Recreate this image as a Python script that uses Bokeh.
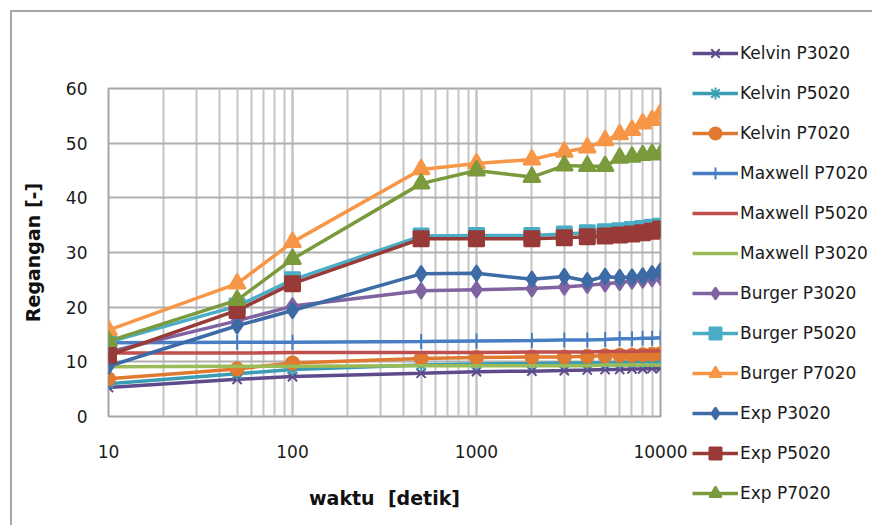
from bokeh.plotting import figure
from bokeh.models import (Range1d, LogTicker, SingleIntervalTicker, PrintfTickFormatter,
                          Legend, LegendItem)
from bokeh.embed import file_html
from bokeh.resources import INLINE

# ---- data ----
waktu = [10, 50, 100, 500, 1000, 2000, 3000, 4000, 5000, 6000, 7000, 8000, 9000, 10000]

kelvin_p3020 = [5.3, 6.8, 7.3, 7.9, 8.2, 8.3, 8.4, 8.5, 8.6, 8.6, 8.7, 8.7, 8.8, 8.8]
kelvin_p5020 = [6.0, 7.8, 8.6, 9.4, 9.6, 9.7, 9.8, 9.8, 9.9, 9.9, 10.0, 10.0, 10.1, 10.1]
kelvin_p7020 = [6.9, 8.7, 9.8, 10.6, 10.8, 10.9, 10.9, 11.0, 11.1, 11.2, 11.2, 11.3, 11.4, 11.5]
maxwell_p7020 = [13.5, 13.6, 13.6, 13.7, 13.8, 13.9, 14.0, 14.0, 14.1, 14.2, 14.2, 14.3, 14.3, 14.4]
maxwell_p5020 = [11.6, 11.6, 11.7, 11.7, 11.7, 11.8, 11.8, 11.8, 11.9, 11.9, 11.9, 12.0, 12.0, 12.0]
maxwell_p3020 = [9.1, 9.2, 9.2, 9.3, 9.3, 9.3, 9.3, 9.3, 9.4, 9.4, 9.4, 9.4, 9.4, 9.4]
burger_p3020 = [11.8, 17.5, 20.2, 23.0, 23.2, 23.4, 23.7, 24.0, 24.3, 24.5, 24.8, 25.0, 25.2, 25.5]
burger_p5020 = [13.6, 20.2, 25.0, 33.0, 33.1, 33.1, 33.4, 33.6, 33.8, 34.0, 34.2, 34.4, 34.6, 34.8]
burger_p7020 = [15.8, 24.3, 31.9, 45.2, 46.3, 47.0, 48.4, 49.2, 50.5, 51.6, 52.4, 53.6, 54.2, 55.4]
exp_p3020 = [9.2, 16.6, 19.4, 26.1, 26.2, 25.1, 25.6, 24.8, 25.6, 25.4, 25.5, 25.7, 26.1, 26.6]
exp_p5020 = [11.2, 19.4, 24.3, 32.5, 32.5, 32.5, 32.7, 32.9, 33.0, 33.2, 33.4, 33.6, 33.9, 34.3]
exp_p7020 = [13.8, 21.3, 28.8, 42.6, 45.0, 43.8, 45.9, 45.8, 45.8, 47.3, 47.5, 47.8, 48.0, 47.9]

series = [
    ("Kelvin P3020", kelvin_p3020, "#5E4B8C", "x", 13),
    ("Kelvin P5020", kelvin_p5020, "#3A9DB3", "asterisk", 13),
    ("Kelvin P7020", kelvin_p7020, "#E07A30", "circle", 13),
    ("Maxwell P7020", maxwell_p7020, "#4A7EC4", "cross", 15),
    ("Maxwell P5020", maxwell_p5020, "#C0504D", "dash", 10),
    ("Maxwell P3020", maxwell_p3020, "#9BBB59", "dash", 10),
    ("Burger P3020", burger_p3020, "#8064A2", "diamond", 16),
    ("Burger P5020", burger_p5020, "#4BACC6", "square", 15),
    ("Burger P7020", burger_p7020, "#F79646", "triangle", 17),
    ("Exp P3020", exp_p3020, "#3D6BA6", "diamond", 16),
    ("Exp P5020", exp_p5020, "#983A37", "square", 15),
    ("Exp P7020", exp_p7020, "#7A9A3C", "triangle", 17),
]

p = figure(frame_width=552, frame_height=328, x_axis_type="log",
           x_range=Range1d(10, 10000), y_range=Range1d(0, 60),
           output_backend="svg", toolbar_location=None,
           min_border_left=96, min_border_right=0,
           min_border_top=76, min_border_bottom=109)
p.styles = {"margin-left": "10px", "margin-top": "10px",
            "border-left": "2px solid #a6a6a6", "border-top": "2px solid #a6a6a6"}

p.background_fill_color = "white"
p.border_fill_color = "white"
p.outline_line_color = "#a6a6a6"
p.outline_line_width = 2

p.xaxis.ticker = LogTicker(mantissas=[1], num_minor_ticks=10)
p.xaxis.formatter = PrintfTickFormatter(format="%d")
p.yaxis.ticker = SingleIntervalTicker(interval=10, num_minor_ticks=0)

for ax in (p.xaxis[0], p.yaxis[0]):
    ax.axis_line_color = None
    ax.major_tick_line_color = None
    ax.minor_tick_line_color = None
    ax.major_tick_out = 0
    ax.major_tick_in = 0
    ax.minor_tick_out = 0
    ax.minor_tick_in = 0
    ax.major_label_text_font = "DejaVu Sans"
    ax.major_label_text_font_size = "17px"
    ax.major_label_text_color = "#1a1a1a"
    ax.axis_label_text_font = "DejaVu Sans"
    ax.axis_label_text_font_size = "19px"
    ax.axis_label_text_font_style = "bold"
    ax.axis_label_text_color = "#111111"

p.xaxis.axis_label = "waktu \u00a0[detik]"
p.yaxis.axis_label = "Regangan [-]"
p.xaxis.major_label_standoff = 28
p.xaxis.axis_label_standoff = 26
p.yaxis.major_label_standoff = 21
p.yaxis.axis_label_standoff = 19

p.xgrid.grid_line_color = "#c4c4c4"
p.xgrid.grid_line_width = 2
p.xgrid.minor_grid_line_color = "#c4c4c4"
p.xgrid.minor_grid_line_width = 2
p.ygrid.grid_line_color = "#b0b0b0"
p.ygrid.grid_line_width = 2

items = []
for name, vals, col, marker, size in series:
    ln = p.line(waktu, vals, line_color=col, line_width=3.5)
    sc = p.scatter(waktu, vals, marker=marker, size=size,
                   fill_color=col, line_color=col, line_width=2)
    items.append(LegendItem(label=name, renderers=[ln, sc]))

legend = Legend(items=items, location="center_left", orientation="vertical",
                glyph_width=46, glyph_height=30, label_height=30, spacing=10,
                label_standoff=2, padding=0, margin=32,
                title=" ", title_text_font_size="12px", title_standoff=28,
                label_text_font="DejaVu Sans", label_text_font_size="17px",
                label_text_color="#1a1a1a",
                border_line_color=None, background_fill_alpha=0)
p.add_layout(legend, "right")

open("out.html", "w").write(file_html(p, INLINE))
